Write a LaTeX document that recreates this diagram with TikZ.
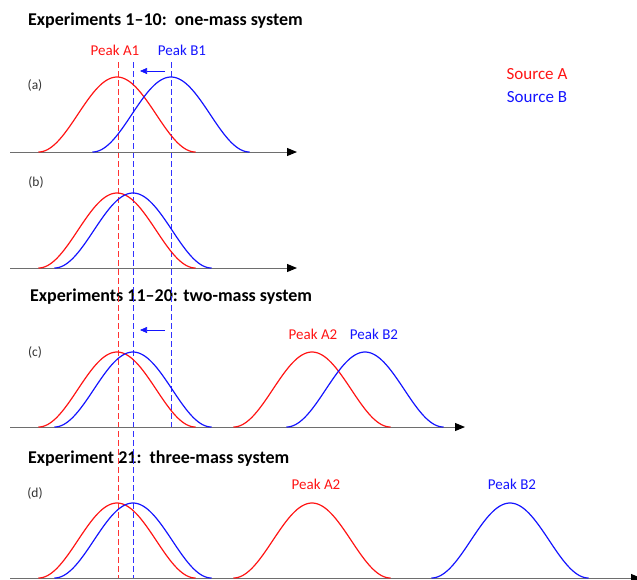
\documentclass[tikz,border=0pt]{standalone}
\usepackage{fontspec}
\setmainfont{Carlito}
\usetikzlibrary{arrows.meta}
\definecolor{cred}{RGB}{255,20,20}
\definecolor{cblue}{RGB}{20,20,255}
\definecolor{gred}{RGB}{255,50,50}
\definecolor{gblue}{RGB}{50,50,255}
\definecolor{axisgray}{RGB}{110,110,110}
\tikzset{
  title/.style={anchor=west, inner sep=0pt, font=\fontsize{18}{21}\selectfont\bfseries},
  plabel/.style={inner sep=0pt, font=\fontsize{15}{18}\selectfont},
  panel/.style={inner sep=0pt, text=black!80, font=\fontsize{13.5}{16}\selectfont},
  srclabel/.style={inner sep=0pt, font=\fontsize{17}{20}\selectfont},
  axisline/.style={axisgray, line width=1pt, -{Triangle[length=10pt,width=8pt,color=black,fill=black]}},
  curve/.style={line width=1.2pt, line join=round},
  guide/.style={line width=1pt, dash pattern=on 6pt off 3pt},
  shift arrow/.style={cblue, line width=0.6pt, -{Triangle[length=7pt,width=6pt]}}
}
\newcommand\bump[3]{\draw[#1, curve] plot[domain=-78.5:78.5, samples=70, smooth] ({#2+\x},{#3-37.5*(1+cos(\x*180/78.5))});}
\begin{document}
\begin{tikzpicture}[x=1pt,y=-1pt]
\useasboundingbox (0,0) rectangle (637,579);
% titles
\node[title] (t1) at (28,21) {Experiments 1–10:\ \ one-mass system};
\node[title] (t2) at (30,297) {Experiments 11–20: two-mass system};
\node[title] (t3) at (28,459) {Experiment 21:\ \ three-mass system};
% legend
\node[srclabel, text=cred] (srcA) at (537,74) {Source A};
\node[srclabel, text=cblue] (srcB) at (537,97) {Source B};
% panel labels
\node[panel] (pa) at (35,85) {(a)};
\node[panel] (pb) at (36,182) {(b)};
\node[panel] (pc) at (35,352) {(c)};
\node[panel] (pd) at (35,493) {(d)};
% peak labels
\node[plabel, text=cred] (lA1) at (115,50) {Peak A1};
\node[plabel, text=cblue] (lB1) at (182,50) {Peak B1};
\node[plabel, text=cred] (lA2c) at (313,334) {Peak A2};
\node[plabel, text=cblue] (lB2c) at (374,334) {Peak B2};
\node[plabel, text=cred] (lA2d) at (316,484) {Peak A2};
\node[plabel, text=cblue] (lB2d) at (512,484) {Peak B2};
% guide coordinates
\coordinate (rTop) at (118.5,62); \coordinate (rBot) at (118.5,579);
\coordinate (bTop) at (133.5,62); \coordinate (bBot) at (133.5,579);
\coordinate (b1Top) at (171.5,62); \coordinate (b1Bot) at (171.5,427);
\draw[guide, draw=gred] (rTop) -- (rBot);
\draw[guide, draw=gblue] (bTop) -- (bBot);
\draw[guide, draw=gblue] (b1Top) -- (b1Bot);
% shift arrows
\coordinate (s1a) at (165,71); \coordinate (s1b) at (140,71);
\coordinate (s2a) at (165,330); \coordinate (s2b) at (140,330);
\draw[shift arrow] (s1a) -- (s1b);
\draw[shift arrow] (s2a) -- (s2b);
% axes
\coordinate (axA0) at (10,152); \coordinate (axA1) at (297,152);
\coordinate (axB0) at (10,268); \coordinate (axB1) at (297,268);
\coordinate (axC0) at (10,427); \coordinate (axC1) at (465,427);
\coordinate (axD0) at (10,578); \coordinate (axD1) at (641,578);
\draw[axisline] (axA0) -- (axA1);
\draw[axisline] (axB0) -- (axB1);
\draw[axisline] (axC0) -- (axC1);
\draw[axisline] (axD0) -- (axD1);
% curves (a)
\bump{cred}{117}{152}
\bump{cblue}{171}{152}
% (b)
\bump{cred}{117}{268}
\bump{cblue}{133}{268}
% (c)
\bump{cred}{117}{427}
\bump{cblue}{133}{427}
\bump{cred}{312}{427}
\bump{cblue}{365}{427}
% (d)
\bump{cred}{117}{578}
\bump{cblue}{133}{578}
\bump{cred}{312}{578}
\bump{cblue}{510}{578}
\end{tikzpicture}
\end{document}
